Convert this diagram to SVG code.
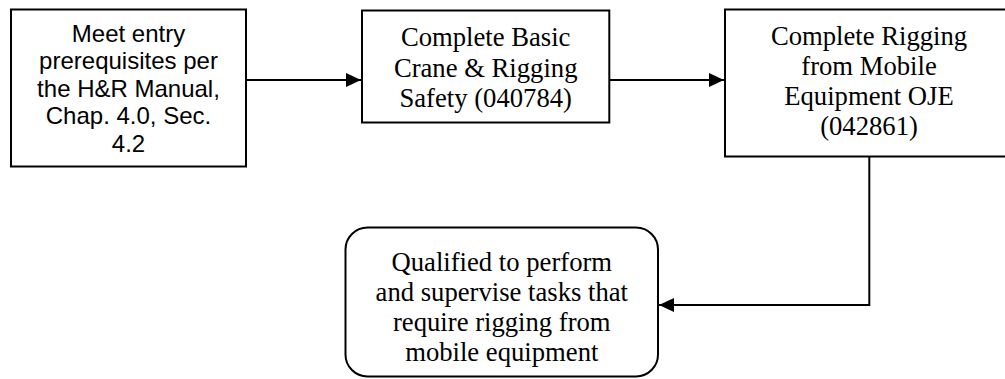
<svg xmlns="http://www.w3.org/2000/svg" width="1005" height="379" viewBox="0 0 1005 379">
<style>
.box{fill:#fff;stroke:#000;stroke-width:2}
.conn{fill:none;stroke:#000;stroke-width:2}
.sans{font-family:"Liberation Sans",Arial,sans-serif;font-size:24px;fill:#000;text-anchor:middle}
.serif{font-family:"Liberation Serif","Times New Roman",serif;font-size:26.67px;fill:#000;text-anchor:middle}
</style>
<defs>
<marker id="arr" markerUnits="userSpaceOnUse" markerWidth="16" markerHeight="14" refX="15" refY="7" orient="auto">
<path d="M0,0 L15,7 L0,14 Z" fill="#000"/>
</marker>
</defs>
<rect width="1005" height="379" fill="#fff"/>
<g id="connectors">
<path class="conn" d="M246,80 H361" marker-end="url(#arr)"/>
<path class="conn" d="M609,80 H724" marker-end="url(#arr)"/>
<path class="conn" d="M869.3,157 V305 H659" marker-end="url(#arr)"/>
</g>
<g id="node1">
<rect class="box" x="11" y="9.5" width="235" height="157"/>
<text class="sans" x="128.5" y="41.5">Meet entry</text>
<text class="sans" x="128.5" y="69">prerequisites per</text>
<text class="sans" x="128.5" y="96.5">the H&amp;R Manual,</text>
<text class="sans" x="128.5" y="124">Chap. 4.0, Sec.</text>
<text class="sans" x="128.5" y="151.5">4.2</text>
</g>
<g id="node2">
<rect class="box" x="362" y="10.5" width="247.3" height="112"/>
<text class="serif" x="485.7" y="46">Complete Basic</text>
<text class="serif" x="485.7" y="76.5">Crane &amp; Rigging</text>
<text class="serif" x="485.7" y="106.5">Safety (040784)</text>
</g>
<g id="node3">
<rect class="box" x="725" y="9.5" width="290" height="147"/>
<text class="serif" x="869" y="45">Complete Rigging</text>
<text class="serif" x="869" y="75">from Mobile</text>
<text class="serif" x="869" y="105">Equipment OJE</text>
<text class="serif" x="869" y="135">(042861)</text>
</g>
<g id="node4">
<rect class="box" x="345.5" y="227.5" width="312.5" height="149" rx="22" ry="22"/>
<text class="serif" x="501.8" y="270.5">Qualified to perform</text>
<text class="serif" x="501.8" y="300.5">and supervise tasks that</text>
<text class="serif" x="501.8" y="330.5">require rigging from</text>
<text class="serif" x="501.8" y="360.5">mobile equipment</text>
</g>
</svg>
